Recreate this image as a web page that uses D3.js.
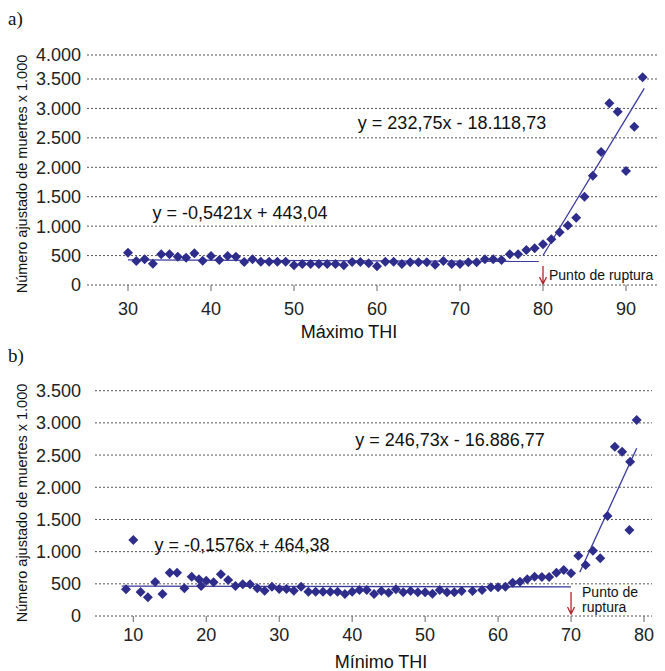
<!DOCTYPE html>
<html>
<head>
<meta charset="utf-8">
<script src="https://cdn.jsdelivr.net/npm/d3@7"></script>
<style>
  body { margin: 0; background: #fff; }
</style>
</head>
<body>
<svg width="665" height="671" font-family="'Liberation Sans', Arial, sans-serif"></svg>
<script>
// ---- data ----
var maxThi = [30,31,32,33,34,35,36,37,38,39,40,41,42,43,44,45,46,47,48,49,50,
  51,52,53,54,55,56,57,58,59,60,61,62,63,64,65,66,67,68,69,70,
  71,72,73,74,75,76,77,78,79,80,81,82,83,84,85,86,87,88,89,90,91,92];
var maxDeaths = [549,408,436,362,521,521,481,464,538,413,493,425,493,481,391,436,396,396,396,396,334,
  357,357,357,357,357,334,391,391,368,318,396,396,357,385,385,385,346,408,357,357,
  385,385,436,436,425,521,521,595,623,691,776,895,1013,1144,1501,1858,2260,3087,2945,1937,2690,3535];

var minThi = [9,10,11,12,13,14,15,16,17,18,19,19.3,20,21,22,23,24,25,26,27,28,29,30,
  31,32,33,34,35,36,37,38,39,40,41,42,43,44,45,46,47,48,49,50,
  51,52,53,54,55,56.5,57.8,59,60,61,62,63,64,65,66,67,68,69,70,
  71,72,73,74,75,76,77,78,78.1,79];
var minDeaths = [414,1181,373,290,528,342,673,673,430,611,570,466,549,523,647,559,466,492,492,430,393,455,419,
  419,393,455,378,378,378,378,378,342,378,404,404,342,388,362,414,368,388,368,368,
  347,404,368,368,388,388,404,446,446,455,518,533,570,611,605,605,673,715,663,
  937,792,1015,896,1553,2630,2553,1336,2397,3045];

var xTicksA = [30,40,50,60,70,80,90];
var yTicksA = [0,500,1000,1500,2000,2500,3000,3500,4000];
var xTicksB = [10,20,30,40,50,60,70,80];
var yTicksB = [0,500,1000,1500,2000,2500,3000,3500];

// fitted segments: [slope, intercept, from x, to x]
var fitsA = [[-0.5421, 443.04, 30, 79.5], [232.75, -18118.73, 80, 92.2]];
var fitsB = [[-0.1576, 464.38, 8.4, 70], [246.73, -16886.77, 71.2, 79]];
var eqA = ["y = -0,5421x + 443,04", "y = 232,75x - 18.118,73"];
var eqB = ["y = -0,1576x + 464,38", "y = 246,73x - 16.886,77"];
var breakA = 80, breakB = 70;

var svg = d3.select("svg");
var navy = "#2e2d8c";
var fmt = d3.formatLocale({decimal: ",", thousands: ".", grouping: [3], currency: ["", ""]}).format(",d");

function panel(o) {
  var g = svg.append("g");
  var x = o.x, y = o.y;

  // grid lines (dotted)
  g.selectAll(".grid").data(o.yTicks).enter().append("line")
      .attr("x1", o.gx0).attr("x2", o.gx1)
      .attr("y1", function(d) { return y(d); })
      .attr("y2", function(d) { return y(d); })
      .attr("stroke", "#555").attr("stroke-width", 1)
      .attr("stroke-dasharray", "2,2");

  // y labels
  g.selectAll(".ylab").data(o.yTicks).enter().append("text")
      .attr("x", o.ylx).attr("y", function(d) { return y(d); })
      .attr("dy", "0.36em").attr("text-anchor", "end")
      .attr("font-size", 18).attr("fill", "#222")
      .text(fmt);

  // x ticks
  g.selectAll(".xt").data(o.xTicks).enter().append("line")
      .attr("x1", function(d) { return x(d); }).attr("x2", function(d) { return x(d); })
      .attr("y1", y(0)).attr("y2", y(0) + 6)
      .attr("stroke", "#666").attr("stroke-width", 1);
  g.selectAll(".xlab").data(o.xTicks).enter().append("text")
      .attr("x", function(d) { return x(d); }).attr("y", o.xly)
      .attr("dy", "0.36em").attr("text-anchor", "middle")
      .attr("font-size", 18).attr("fill", "#222")
      .text(function(d) { return d; });

  // fitted lines
  o.fits.forEach(function(f) {
    g.append("line")
        .attr("x1", x(f[2])).attr("y1", y(f[0] * f[2] + f[1]))
        .attr("x2", x(f[3])).attr("y2", y(f[0] * f[3] + f[1]))
        .attr("stroke", "#3a3a9c").attr("stroke-width", 1.3);
  });

  // points
  var sym = d3.symbol().type(d3.symbolSquare).size(50);
  g.selectAll(".pt").data(o.xs).enter().append("path")
      .attr("d", sym)
      .attr("transform", function(d, i) { return "translate(" + x(d) + "," + y(o.ys[i]) + ") rotate(45)"; })
      .attr("fill", navy);

  // equations
  o.eq.forEach(function(t, i) {
    g.append("text")
        .attr("x", o.eqPos[i][0]).attr("y", o.eqPos[i][1])
        .attr("dy", "0.36em").attr("text-anchor", "middle")
        .attr("font-size", 18).attr("fill", "#111")
        .text(t);
  });

  // break point arrow
  var bx = x(o.brk);
  g.append("path")
      .attr("d", "M" + bx + "," + o.arrow[0] + "V" + o.arrow[1] +
                 "M" + (bx - 3.5) + "," + (o.arrow[1] - 7) + "L" + bx + "," + o.arrow[1] + "L" + (bx + 3.5) + "," + (o.arrow[1] - 7))
      .attr("stroke", "#b0262a").attr("stroke-width", 1.3).attr("fill", "none");
  o.brkLabel.forEach(function(t, i) {
    g.append("text")
        .attr("x", bx + (o.brkLabel.length > 1 ? 11 : 6))
        .attr("y", o.brkLabelY + i * 14.5)
        .attr("dy", "0.36em")
        .attr("font-size", 14).attr("fill", "#111")
        .text(t);
  });

  // axis titles
  g.append("text")
      .attr("x", o.xt[0]).attr("y", o.xt[1]).attr("dy", "0.36em")
      .attr("text-anchor", "middle").attr("font-size", 18).attr("fill", "#111")
      .text(o.xTitle);
  g.append("text")
      .attr("transform", "translate(" + o.yt[0] + "," + o.yt[1] + ") rotate(-90)")
      .attr("dy", "0.36em").attr("text-anchor", "middle")
      .attr("font-size", 14.5).attr("fill", "#111")
      .text("Número ajustado de muertes x 1.000");

  // panel letter
  svg.append("text")
      .attr("x", 8).attr("y", o.letterY)
      .attr("font-family", "'Liberation Serif', 'DejaVu Serif', serif")
      .attr("font-size", 19).attr("fill", "#111")
      .text(o.letter);
}

panel({
  letter: "a)", letterY: 25,
  x: d3.scaleLinear().domain([30, 90]).range([128, 626]),
  y: d3.scaleLinear().domain([0, 3500, 4000]).range([285, 79, 55]),
  xs: maxThi, ys: maxDeaths, xTicks: xTicksA, yTicks: yTicksA,
  gx0: 87, gx1: 657, ylx: 81, xly: 309,
  fits: fitsA, eq: eqA, eqPos: [[240, 213], [452, 123]],
  brk: breakA, arrow: [266, 284], brkLabel: ["Punto de ruptura"], brkLabelY: 275,
  xTitle: "Máximo THI", xt: [349, 332], yt: [22, 174]
});

panel({
  letter: "b)", letterY: 362,
  x: d3.scaleLinear().domain([10, 80]).range([133.3, 644]),
  y: d3.scaleLinear().domain([0, 3500]).range([616, 390.7]),
  xs: minThi, ys: minDeaths, xTicks: xTicksB, yTicks: yTicksB,
  gx0: 95, gx1: 652, ylx: 81, xly: 635,
  fits: fitsB, eq: eqB, eqPos: [[242, 545], [450, 440]],
  brk: breakB, arrow: [592, 614], brkLabel: ["Punto de", "ruptura"], brkLabelY: 592,
  xTitle: "Mínimo THI", xt: [381, 662], yt: [22, 503]
});
</script>
</body>
</html>
